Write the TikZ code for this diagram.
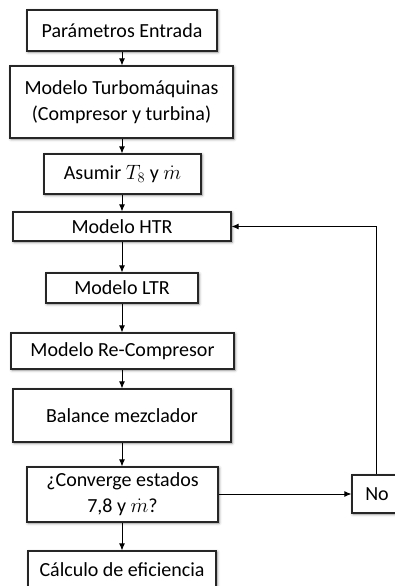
\documentclass[tikz,border=0pt]{standalone}
\usepackage{fontspec}
\setmainfont{Carlito}
\usetikzlibrary{arrows.meta,shadows.blur}
\begin{document}
\begin{tikzpicture}[x=1pt,y=-1pt,
  box/.style={draw=black!85,line width=1.2pt,fill=white,inner sep=0pt,
    align=center,font=\fontsize{20}{26}\selectfont,
    blur shadow={shadow xshift=1pt,shadow yshift=-1pt,shadow blur radius=3pt,shadow blur steps=6,shadow opacity=45}},
  link/.style={draw=black,line width=0.9pt,-{Latex[length=7pt,width=6pt]}}]
\useasboundingbox (0,0) rectangle (395,586);
\node[box,minimum width=190pt,minimum height=41pt] (par) at (122,30.5) {Parámetros Entrada};
\node[box,minimum width=223pt,minimum height=72pt] (turbo) at (121.5,102) {Modelo Turbomáquinas\\(Compresor y turbina)};
\node[box,minimum width=157pt,minimum height=40pt] (asum) at (122.5,174) {Asumir $T_8$ y $\dot m$};
\node[box,minimum width=218pt,minimum height=29pt] (htr) at (122,226.5) {Modelo HTR};
\node[box,minimum width=152pt,minimum height=30pt] (ltr) at (122,288) {Modelo LTR};
\node[box,minimum width=223pt,minimum height=36pt] (rec) at (122.5,351) {Modelo Re-Compresor};
\node[box,minimum width=218pt,minimum height=53pt] (bal) at (122,415.5) {Balance mezclador};
\node[box,minimum width=191pt,minimum height=55pt] (conv) at (122.5,494.5) {¿Converge estados\\7,8 y $\dot m$?};
\node[box,minimum width=188pt,minimum height=38pt] (calc) at (122,570) {Cálculo de eficiencia};
\node[box,minimum width=50pt,minimum height=38pt] (no) at (377,494) {No};
\draw[link] (par.south -| 122,0) -- (turbo.north -| 122,0);
\draw[link] (turbo.south -| 122,0) -- (asum.north -| 122,0);
\draw[link] (asum.south -| 122,0) -- (htr.north -| 122,0);
\draw[link] (htr.south -| 122,0) -- (ltr.north -| 122,0);
\draw[link] (ltr.south -| 122,0) -- (rec.north -| 122,0);
\draw[link] (rec.south -| 122,0) -- (bal.north -| 122,0);
\draw[link] (bal.south -| 122,0) -- (conv.north -| 122,0);
\draw[link] (conv.south -| 122,0) -- (calc.north -| 122,0);
\draw[link] (conv.east |- no.west) -- (no.west);
\draw[link] (no.north -| 376,0) |- (htr.east);
\end{tikzpicture}
\end{document}
